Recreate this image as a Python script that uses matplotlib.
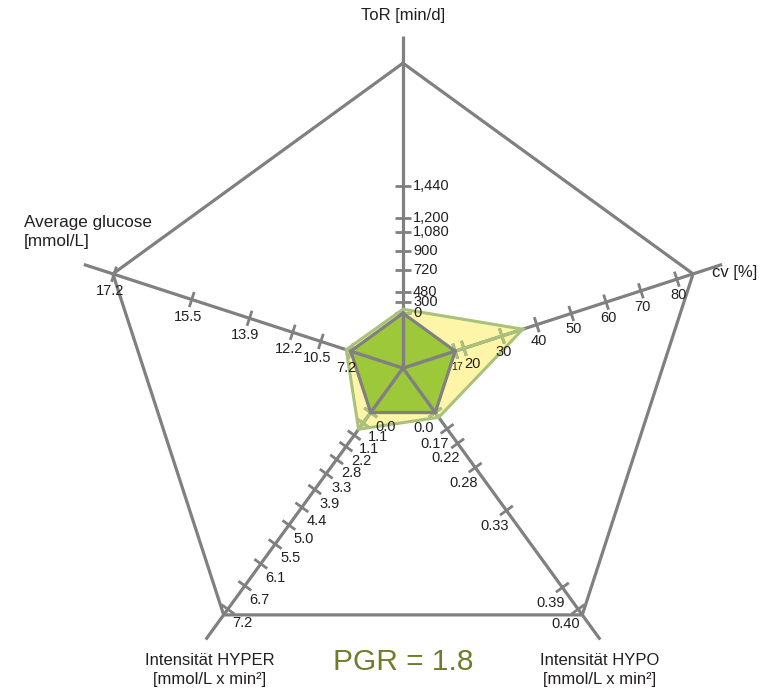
import numpy as np
import matplotlib.pyplot as plt
from matplotlib.patches import Polygon

plt.rcParams['font.family'] = ['Liberation Sans', 'DejaVu Sans']

### DATA ###
# axes clockwise from the top
axis_titles = ['ToR [min/d]', 'cv [%]', 'Intensität HYPO\n[mmol/L x min²]',
               'Intensität HYPER\n[mmol/L x min²]', 'Average glucose\n[mmol/L]']

# tick labels of each axis (innermost = normal profile)
tor_labels = ['0', '300', '480', '720', '900', '1,080', '1,200', '1,440']
cv_labels = ['17', '20', '30', '40', '50', '60', '70', '80']
hypo_labels = ['0.0', '0.17', '0.22', '0.28', '0.33', '0.39', '0.40']
hyper_labels = ['0.0', '1.1', '1.1', '2.2', '2.8', '3.3', '3.9', '4.4', '5.0',
                '5.5', '6.1', '6.7', '7.2']
glucose_labels = ['7.2', '10.5', '12.2', '13.9', '15.5', '17.2']

# where each tick sits along its axis (fraction of the outer pentagon)
tor_scale = [0.18, 0.216, 0.249, 0.321, 0.384, 0.446, 0.492, 0.597]
cv_scale = [0.18, 0.21, 0.341, 0.461, 0.58, 0.70, 0.82, 0.944]
hypo_scale = [0.18, 0.246, 0.305, 0.403, 0.577, 0.889, 0.977]
hyper_scale = [0.18, 0.223, 0.272, 0.318, 0.370, 0.428, 0.492, 0.564, 0.636,
               0.713, 0.793, 0.882, 0.977]
glucose_scale = [0.18, 0.283, 0.380, 0.529, 0.728, 0.996]

# patient profile and normal profile (ToR, cv, HYPO, HYPER, glucose)
patient = [110, 36, 0.05, 1.1, 7.7]
normal = [0, 17, 0.0, 0.0, 7.2]
pgr = 1.8

all_labels = [tor_labels, cv_labels, hypo_labels, hyper_labels, glucose_labels]
all_scales = [tor_scale, cv_scale, hypo_scale, hyper_scale, glucose_scale]

### STYLE ###
gris = '#808080'
texto = '#231f20'
verde = '#9dc83a'
amarillo = '#fff5a8'
borde = '#a9c27a'

angles = np.deg2rad(90 - 72 * np.arange(5))
dirs = np.column_stack([np.cos(angles), np.sin(angles)])
normals = np.column_stack([-dirs[:, 1], dirs[:, 0]])


def to_radius(value, labels, scale):
    # ticks carrying the same value share their mean position
    vals = np.array([float(s.replace(',', '')) for s in labels])
    pos = np.array(scale)
    uv = np.unique(vals)
    ur = [pos[vals == u].mean() for u in uv]
    return np.interp(value, uv, ur)


def profile_points(values):
    r = [to_radius(v, l, s) for v, l, s in zip(values, all_labels, all_scales)]
    return dirs * np.array(r)[:, None]


fig = plt.figure(figsize=(7.73, 6.89), dpi=100)
ax = fig.add_axes([0, 0, 1, 1])
ax.set_xlim(-1.321, 1.213)
ax.set_ylim(-1.052, 1.207)
ax.axis('off')

# patient polygon and normal polygon
pts_patient = profile_points(patient)
pts_normal = profile_points(normal)
fondo = Polygon(pts_patient, closed=True, facecolor=amarillo, edgecolor='none', zorder=1)
ax.add_patch(fondo)
ax.add_patch(Polygon(pts_normal, closed=True, facecolor=verde, edgecolor='none', zorder=2))

# axis lines, outer pentagon and ticks
axis_len = [1.09, 1.1, 1.1, 1.1, 1.1]
tick_half = 0.026
segments = []
for i in range(5):
    segments.append(([0, axis_len[i] * dirs[i, 0]], [0, axis_len[i] * dirs[i, 1]], 2.3))
    for r in all_scales[i]:
        p = r * dirs[i]
        a = p - tick_half * normals[i]
        b = p + tick_half * normals[i]
        segments.append(([a[0], b[0]], [a[1], b[1]], 2.0))

for xs, ys, lw in segments:
    ax.plot(xs, ys, color=gris, lw=lw, solid_capstyle='butt', zorder=3)
    # inside the patient polygon the axes take the polygon's edge colour
    over, = ax.plot(xs, ys, color=borde, lw=lw, solid_capstyle='butt', zorder=4)
    over.set_clip_path(fondo)

outer = np.vstack([dirs, dirs[:1]])
ax.plot(outer[:, 0], outer[:, 1], color=gris, lw=2.3, zorder=3)

ax.add_patch(Polygon(pts_patient, closed=True, facecolor='none', edgecolor=borde,
                     lw=2.2, joinstyle='miter', zorder=4))

# spokes and outline of the normal profile
for p in pts_normal:
    ax.plot([0, p[0]], [0, p[1]], color=gris, lw=2.3, zorder=5)
inner = np.vstack([pts_normal, pts_normal[:1]])
ax.plot(inner[:, 0], inner[:, 1], color=gris, lw=2.3, zorder=5)

# tick labels (offsets in pixels)
offsets = [(10, 0), (2, -16), (-12, -15), (15, -14), (-4, -17)]
aligns = ['left', 'center', 'center', 'center', 'center']
for i in range(5):
    for j, (lab, r) in enumerate(zip(all_labels[i], all_scales[i])):
        p = r * dirs[i]
        dx, dy = offsets[i]
        fs = 10.5
        if i == 1 and j == 0:
            fs = 7.5
        elif i == 1 and j == 1:
            dx = 9
        ax.annotate(lab, xy=p, xytext=(dx * 0.72, dy * 0.72),
                    textcoords='offset points', ha=aligns[i], va='center',
                    fontsize=fs, color=texto, zorder=6)

# axis titles
ax.text(0, 1.157, axis_titles[0], ha='center', va='center', fontsize=12, color=texto)
ax.text(1.013, 0.315, axis_titles[1], ha='left', va='center', fontsize=12, color=texto)
ax.text(0.646, -0.99, axis_titles[2], ha='center', va='center', fontsize=12,
        color=texto, multialignment='center', linespacing=1.35)
ax.text(-0.633, -0.99, axis_titles[3], ha='center', va='center', fontsize=12,
        color=texto, multialignment='center', linespacing=1.35)
ax.text(-1.243, 0.446, axis_titles[4], ha='left', va='center', fontsize=12.3,
        color=texto, multialignment='left', linespacing=1.35)

ax.text(0, -0.964, 'PGR = {}'.format(pgr), ha='center', va='center', fontsize=21.5,
        color='#6e7d2b')

fig.savefig('out.png', dpi=100)
